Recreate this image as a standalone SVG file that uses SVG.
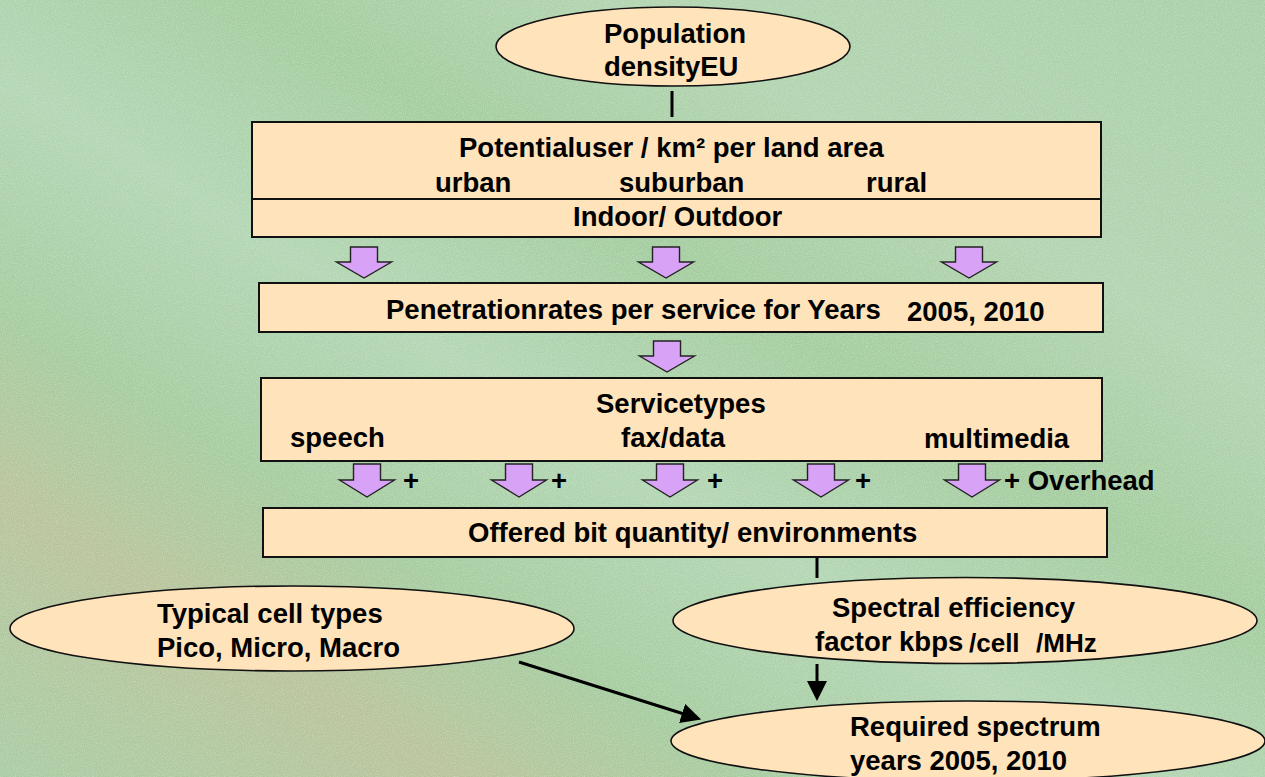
<svg xmlns="http://www.w3.org/2000/svg" width="1265" height="777" viewBox="0 0 1265 777">
  <defs>
    <style>
      .box { fill: #fee3bb; stroke: #111; stroke-width: 2; }
      .ell { fill: #fee3bb; stroke: #111; stroke-width: 1.6; }
      .blk { fill: #d8a2f6; stroke: #222; stroke-width: 1.4; stroke-linejoin: miter; }
      .t { font-family: "Liberation Sans", Arial, sans-serif; font-weight: bold; font-size: 27.5px; fill: #000; }
      .line { stroke: #000; stroke-width: 3; fill: none; }
      .arr { stroke: #000; stroke-width: 3; fill: none; marker-end: url(#head); }
    </style>
    <marker id="head" viewBox="0 0 20 20" refX="2" refY="10" markerWidth="20" markerHeight="20" markerUnits="userSpaceOnUse" orient="auto">
      <path d="M0,0 L20,10 L0,20 Z" fill="#000"/>
    </marker>
    <linearGradient id="bg" x1="0" y1="1" x2="1" y2="0">
      <stop offset="0" stop-color="#a9cca4"/>
      <stop offset="0.18" stop-color="#b9c39b"/>
      <stop offset="0.3" stop-color="#a6cca0"/>
      <stop offset="0.45" stop-color="#b3d6b4"/>
      <stop offset="0.6" stop-color="#a4cc9f"/>
      <stop offset="0.75" stop-color="#b2d4b0"/>
      <stop offset="1" stop-color="#a9cfa8"/>
    </linearGradient>
    <filter id="noise" x="0" y="0" width="100%" height="100%">
      <feTurbulence type="fractalNoise" baseFrequency="0.9" numOctaves="2" seed="3"/>
      <feColorMatrix type="matrix" values="0 0 0 0 0.85  0 0 0 0 0.95  0 0 0 0 0.85  0 0 0 1.2 -0.45"/>
    </filter>
    <path id="blockArrow" d="M-13.5,0 H13.5 V15 H27.5 L0,31 L-27.5,15 H-13.5 Z"/>
    <path id="blockArrow2" d="M-13.5,0 H13.5 V16 H27.5 L0,33 L-27.5,16 H-13.5 Z"/>
  </defs>

  <rect x="0" y="0" width="1265" height="777" fill="url(#bg)"/>
  <rect x="0" y="0" width="1265" height="777" filter="url(#noise)" opacity="0.5"/>

  <g id="connectors">
    <line class="line" x1="672" y1="91" x2="672" y2="117"/>
    <line class="line" x1="817" y1="557" x2="817" y2="578"/>
    <line class="arr" x1="817" y1="664" x2="817" y2="683"/>
    <line class="arr" x1="519" y1="662" x2="684" y2="714"/>
    <g id="block-arrows" class="blk">
      <use href="#blockArrow" x="364" y="247"/>
      <use href="#blockArrow" x="666" y="247"/>
      <use href="#blockArrow" x="969" y="247"/>
      <use href="#blockArrow" x="667" y="341"/>
      <use href="#blockArrow2" x="367" y="464"/>
      <use href="#blockArrow2" x="519" y="464"/>
      <use href="#blockArrow2" x="670" y="464"/>
      <use href="#blockArrow2" x="821" y="464"/>
      <use href="#blockArrow2" x="972" y="464"/>
    </g>
    <g id="plus-labels" class="t">
      <text x="403" y="490">+</text>
      <text x="551" y="490">+</text>
      <text x="707" y="490">+</text>
      <text x="855" y="490">+</text>
      <text x="1004" y="490">+ Overhead</text>
    </g>
  </g>

  <g id="population">
    <ellipse class="ell" cx="673" cy="46.5" rx="177" ry="39.5"/>
    <text class="t" x="604" y="43">Population</text>
    <text class="t" x="604" y="76">densityEU</text>
  </g>

  <g id="potential-users">
    <rect class="box" x="252" y="122" width="849" height="115"/>
    <line stroke="#111" stroke-width="2" x1="252" y1="199" x2="1101" y2="199"/>
    <text class="t" x="459" y="157">Potentialuser / km² per land area</text>
    <text class="t" x="435" y="192">urban</text>
    <text class="t" x="619" y="192">suburban</text>
    <text class="t" x="866" y="192">rural</text>
    <text class="t" x="573" y="226">Indoor/ Outdoor</text>
  </g>

  <g id="penetration">
    <rect class="box" x="259" y="283" width="844" height="49"/>
    <text class="t" x="386" y="319">Penetrationrates per service for Years</text>
    <text class="t" x="907" y="321">2005, 2010</text>
  </g>

  <g id="service-types">
    <rect class="box" x="261" y="378" width="841" height="83"/>
    <text class="t" x="596" y="413">Servicetypes</text>
    <text class="t" x="290" y="447">speech</text>
    <text class="t" x="621" y="447">fax/data</text>
    <text class="t" x="924" y="448">multimedia</text>
  </g>

  <g id="offered-bits">
    <rect class="box" x="263" y="508" width="844" height="49"/>
    <text class="t" x="468" y="542">Offered bit quantity/ environments</text>
  </g>

  <g id="cell-types">
    <ellipse class="ell" cx="292" cy="628.5" rx="282" ry="42.5"/>
    <text class="t" x="157" y="623">Typical cell types</text>
    <text class="t" x="157" y="657">Pico, Micro, Macro</text>
  </g>

  <g id="spectral-efficiency">
    <ellipse class="ell" cx="965" cy="620.5" rx="292" ry="43"/>
    <text class="t" x="832" y="617">Spectral efficiency</text>
    <text class="t" x="815" y="651">factor kbps</text>
    <text class="t" x="969" y="652" style="font-size:26px">/cell</text>
    <text class="t" x="1036" y="652" style="font-size:26px">/MHz</text>
  </g>

  <g id="required-spectrum">
    <ellipse class="ell" cx="968" cy="741" rx="297" ry="40"/>
    <text class="t" x="850" y="736">Required spectrum</text>
    <text class="t" x="850" y="770">years 2005, 2010</text>
  </g>
</svg>
